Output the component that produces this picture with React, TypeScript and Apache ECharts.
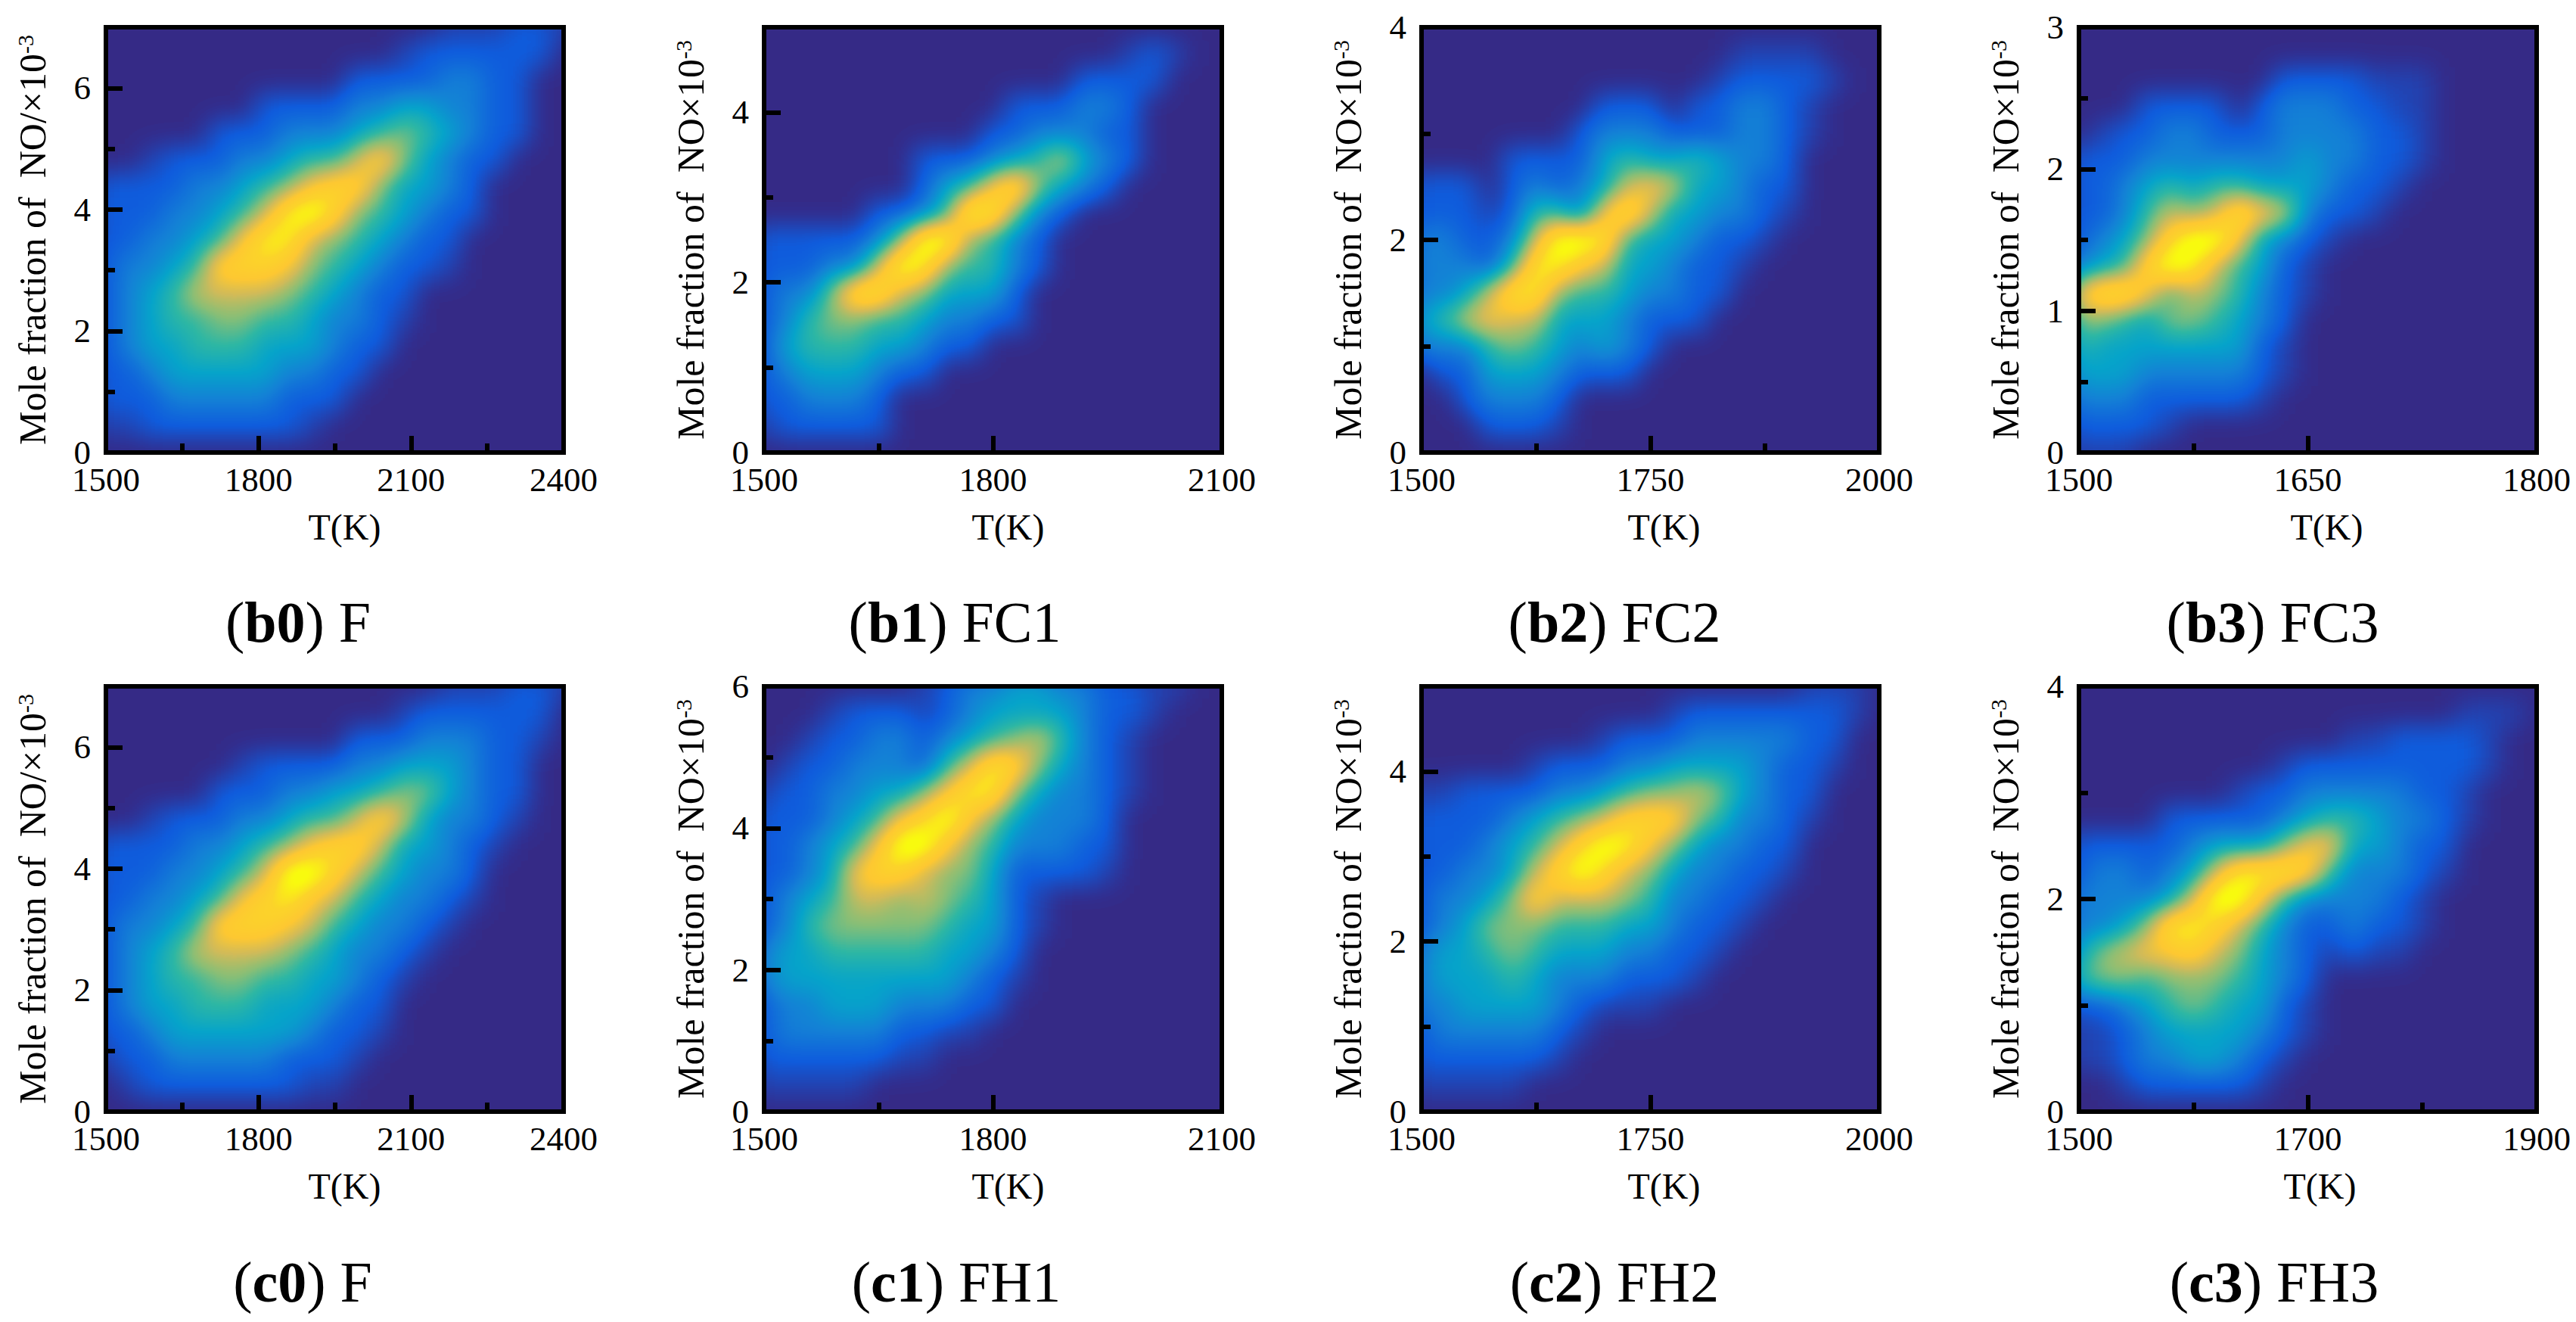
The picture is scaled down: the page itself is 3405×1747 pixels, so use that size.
import React, { useEffect, useRef } from "react";
import * as echarts from "echarts";

const PARULA = ["#352a87", "#0f5cdd", "#1481d6", "#06a4ca", "#2eb7a4", "#87bf77", "#d1bb59", "#fec832", "#fcd42a", "#f9fb0e", "#f9fb0e"];
const LEVEL_MAX = PARULA.length - 1;
const FONT = "Liberation Serif";

// Colour level: 21 columns (T, left to right), 17 rows (NO, top to bottom)
const b0Levels = [
[0,0,0,0,0,0,0,0,0,0,0,0,0,0,0,.5,.5,.5,1,1,.5],
[0,0,0,0,0,0,0,0,0,0,0,0,0,.5,1,1,1,1,1,1,0],
[0,0,0,0,0,0,0,0,0,0,0,1,1,1,1,2,2,1,1,0,0],
[0,0,0,0,0,0,0,1,1,1,1,2,2,3,3,2,2,1,1,0,0],
[0,0,0,0,0,1,1,1,2,2,2,3,4,5,4,3,2,1,1,0,0],
[0,0,.5,1,1,1,2,2,3,4,4,6,8,5,3,2,1,1,0,0,0],
[1,1,1,1,2,2,3,4,5,7,8,8,5,3,3,2,1,0,0,0,0],
[1,1,1,2,2,3,4,6,9,10,8,5,4,3,2,1,1,0,0,0,0],
[1,1,2,2,3,4,7,9,9,6,5,4,3,2,1,1,0,0,0,0,0],
[1,2,2,3,4,8,8,8,7,5,4,3,2,1,1,.5,0,0,0,0,0],
[1,2,3,4,6,6,6,6,5,4,3,2,1,1,0,0,0,0,0,0,0],
[1,2,3,4,4,5,5,4,4,3,2,2,1,.5,0,0,0,0,0,0,0],
[1,2,3,3,4,4,4,3,3,3,2,1,1,0,0,0,0,0,0,0,0],
[1,1,2,3,3,3,3,3,2,2,1,1,0,0,0,0,0,0,0,0,0],
[1,1,1,2,2,2,2,2,1,1,1,0,0,0,0,0,0,0,0,0,0],
[.5,.5,1,1,1,1,1,1,1,.5,0,0,0,0,0,0,0,0,0,0,0],
[0,0,0,0,0,0,0,0,0,0,0,0,0,0,0,0,0,0,0,0,0],
];
const b1Levels = [
[0,0,0,0,0,0,0,0,0,0,0,0,0,0,0,0,0,0,0,0,0],
[0,0,0,0,0,0,0,0,0,0,0,0,0,0,0,0,.5,1,.5,0,0],
[0,0,0,0,0,0,0,0,0,0,0,0,0,0,1,1,1,1,0,0,0],
[0,0,0,0,0,0,0,0,0,0,0,1,1,1,2,2,1,0,0,0,0],
[0,0,0,0,0,0,0,0,0,0,1,1,2,2,2,1,1,0,0,0,0],
[0,0,0,0,0,0,0,1,1,1,2,3,4,6,3,2,1,0,0,0,0],
[0,0,0,0,0,0,0,1,3,4,7,9,5,3,2,1,0,0,0,0,0],
[0,0,0,0,0,1,1,2,4,10,9,5,2,1,0,0,0,0,0,0,0],
[1,1,1,1,1,2,5,10,10,5,4,2,1,0,0,0,0,0,0,0,0],
[1,1,1,2,2,6,10,9,5,4,4,2,1,0,0,0,0,0,0,0,0],
[1,2,2,5,9,9,6,5,3,3,3,1,0,0,0,0,0,0,0,0,0],
[1,2,4,5,5,4,4,3,2,2,1,1,0,0,0,0,0,0,0,0,0],
[1,3,4,4,4,3,3,2,1,1,0,0,0,0,0,0,0,0,0,0,0],
[1,2,3,3,3,2,1,1,0,0,0,0,0,0,0,0,0,0,0,0,0],
[1,1,2,2,2,1,0,0,0,0,0,0,0,0,0,0,0,0,0,0,0],
[.5,1,1,1,1,1,0,0,0,0,0,0,0,0,0,0,0,0,0,0,0],
[0,0,0,0,0,0,0,0,0,0,0,0,0,0,0,0,0,0,0,0,0],
];
const b2Levels = [
[0,0,0,0,0,0,0,0,0,0,0,0,0,0,0,0,0,0,0,0,0],
[0,0,0,0,0,0,0,0,0,0,0,0,0,0,.5,.5,.5,.5,0,0,0],
[0,0,0,0,0,0,0,0,0,0,0,0,0,.5,1,1,1,1,.5,0,0],
[0,0,0,0,0,0,0,0,1,1,1,0,1,1,2,2,1,.5,0,0,0],
[0,0,0,0,0,0,0,1,2,2,2,1,1,1,2,2,1,.5,0,0,0],
[0,0,0,0,1,1,1,1,3,4,3,3,4,3,2,2,1,0,0,0,0],
[1,1,1,0,1,2,1,2,3,6,7,6,3,3,2,1,1,0,0,0,0],
[1,1,1,.5,1,4,4,2,7,9,6,3,3,2,2,1,.5,0,0,0,0],
[2,2,1,1,2,6,10,10,9,4,3,3,2,1,1,.5,0,0,0,0,0],
[2,2,2,1,4,9,9,7,6,3,3,2,1,1,.5,0,0,0,0,0,0],
[2,2,3,6,9,9,5,4,4,3,2,2,1,1,0,0,0,0,0,0,0],
[3,4,6,7,6,6,3,3,3,2,1,1,1,0,0,0,0,0,0,0,0],
[2,2,2,4,5,4,3,2,3,2,1,0,0,0,0,0,0,0,0,0,0],
[0,1,1,3,3,3,2,1,1,1,0,0,0,0,0,0,0,0,0,0,0],
[0,0,1,2,2,2,1,0,0,0,0,0,0,0,0,0,0,0,0,0,0],
[0,0,0,1,1,1,.5,0,0,0,0,0,0,0,0,0,0,0,0,0,0],
[0,0,0,0,0,0,0,0,0,0,0,0,0,0,0,0,0,0,0,0,0],
];
const b3Levels = [
[0,0,0,0,0,0,0,0,0,0,0,0,0,0,0,0,0,0,0,0,0],
[0,0,0,0,0,0,0,0,0,0,0,0,0,0,0,0,0,0,0,0,0],
[0,0,0,0,0,0,0,0,0,1,1,1,1,.5,.5,.5,0,0,0,0,0],
[0,0,0,1,1,1,1,0,1,2,2,2,1,1,.5,.5,0,0,0,0,0],
[0,.5,1,1,2,2,1,1,1,2,2,2,2,1,1,.5,0,0,0,0,0],
[1,1,1,2,2,2,2,2,2,2,3,2,2,1,1,.5,0,0,0,0,0],
[1,1,2,3,4,3,4,4,3,3,3,2,1,1,.5,0,0,0,0,0,0],
[1,1,2,4,6,5,6,9,7,6,2,1,1,.5,0,0,0,0,0,0,0],
[1,2,3,5,8,10,10,7,3,2,1,.5,0,0,0,0,0,0,0,0,0],
[2,3,4,8,10,9,6,4,3,1,.5,0,0,0,0,0,0,0,0,0,0],
[7,9,9,7,4,6,5,4,2,1,.5,0,0,0,0,0,0,0,0,0,0],
[5,5,4,3,5,5,4,3,2,1,0,0,0,0,0,0,0,0,0,0,0],
[4,3,3,3,3,3,3,3,1,.5,0,0,0,0,0,0,0,0,0,0,0],
[3,3,3,2,2,2,2,2,1,.5,0,0,0,0,0,0,0,0,0,0,0],
[2,2,2,1,1,1,1,1,.5,0,0,0,0,0,0,0,0,0,0,0,0],
[1,1,1,1,.5,0,0,0,0,0,0,0,0,0,0,0,0,0,0,0,0],
[.5,.5,.5,0,0,0,0,0,0,0,0,0,0,0,0,0,0,0,0,0,0],
];
const c0Levels = [
[0,0,0,0,0,0,0,0,0,0,0,0,0,0,0,.5,.5,.5,1,1,.5],
[0,0,0,0,0,0,0,0,0,0,0,0,0,.5,1,1,1,1,1,1,0],
[0,0,0,0,0,0,0,0,0,0,0,1,1,1,2,2,2,1,1,.5,0],
[0,0,0,0,0,0,.5,1,1,1,1,2,2,3,3,3,2,1,1,0,0],
[0,0,0,0,0,1,1,1,2,2,3,3,4,5,5,3,2,1,1,0,0],
[0,0,.5,1,1,1,2,2,3,4,4,6,8,6,3,2,2,1,.5,0,0],
[1,1,1,1,2,2,3,4,5,7,8,8,6,3,3,2,1,.5,0,0,0],
[1,1,1,2,2,3,4,6,10,10,8,6,4,3,2,2,1,0,0,0,0],
[1,1,2,2,3,4,7,8,9,7,6,4,3,2,2,1,.5,0,0,0,0],
[1,2,2,3,4,8,8,8,7,6,4,3,2,2,1,.5,0,0,0,0,0],
[1,2,3,4,6,6,6,6,5,4,3,2,2,1,.5,0,0,0,0,0,0],
[1,2,3,4,4,5,5,4,4,3,3,2,1,.5,0,0,0,0,0,0,0],
[1,2,3,3,4,4,4,3,3,3,2,1,1,0,0,0,0,0,0,0,0],
[1,1,2,3,3,3,3,3,3,2,1,1,.5,0,0,0,0,0,0,0,0],
[.5,1,1,2,2,2,2,2,1,1,1,.5,0,0,0,0,0,0,0,0,0],
[0,.5,1,1,1,1,1,1,1,.5,.5,0,0,0,0,0,0,0,0,0,0],
[0,0,0,0,0,0,0,0,0,0,0,0,0,0,0,0,0,0,0,0,0],
];
const c1Levels = [
[0,0,0,0,0,0,0,.5,1,2,2,3,3,2,2,1,1,.5,.5,0,0],
[0,0,0,.5,1,1,1,.5,1,2,3,3,3,3,2,1,1,.5,0,0,0],
[0,0,.5,1,1,2,2,1,2,3,4,5,6,4,2,1,.5,0,0,0,0],
[0,.5,1,1,2,2,2,1,4,6,9,8,5,3,2,1,.5,0,0,0,0],
[.5,1,1,2,2,3,3,5,7,9,9,5,3,2,2,1,.5,0,0,0,0],
[1,1,1,2,3,4,7,8,10,7,5,3,2,2,2,1,0,0,0,0,0],
[1,1,2,3,4,7,10,10,7,5,4,2,2,2,1,1,0,0,0,0,0],
[1,1,2,3,7,8,8,6,5,5,3,1,1,1,1,.5,0,0,0,0,0],
[1,2,3,4,6,6,5,6,5,4,3,1,.5,0,0,0,0,0,0,0,0],
[1,2,4,5,5,5,5,5,4,3,3,1,.5,0,0,0,0,0,0,0,0],
[2,3,3,4,4,4,4,4,3,3,2,1,0,0,0,0,0,0,0,0,0],
[2,3,3,3,3,3,3,3,3,2,1,.5,0,0,0,0,0,0,0,0,0],
[1,2,2,3,3,3,2,2,2,1,1,0,0,0,0,0,0,0,0,0,0],
[1,2,2,2,2,2,1,1,.5,.5,0,0,0,0,0,0,0,0,0,0,0],
[1,1,1,1,1,1,.5,.5,0,0,0,0,0,0,0,0,0,0,0,0,0],
[.5,.5,.5,.5,.5,0,0,0,0,0,0,0,0,0,0,0,0,0,0,0,0],
[0,0,0,0,0,0,0,0,0,0,0,0,0,0,0,0,0,0,0,0,0],
];
const c2Levels = [
[0,0,0,0,0,0,0,0,0,0,0,0,0,0,0,0,0,.5,.5,.5,0],
[0,0,0,0,0,0,0,0,0,0,0,.5,1,1,1,1,1,1,1,.5,0],
[0,0,0,0,0,0,0,0,.5,1,1,1,2,2,2,2,2,1,1,0,0],
[0,0,0,0,0,.5,1,1,1,2,2,3,3,3,3,2,1,1,.5,0,0],
[.5,.5,1,1,1,1,2,2,3,4,5,5,6,5,3,2,1,1,0,0,0],
[1,1,1,1,2,3,4,5,6,8,8,8,5,4,2,2,1,.5,0,0,0],
[1,1,1,2,3,4,6,8,10,9,7,5,3,2,2,1,1,0,0,0,0],
[1,1,2,2,3,6,8,10,8,6,5,3,2,2,1,1,.5,0,0,0,0],
[1,2,2,3,5,8,6,6,6,5,4,2,2,1,1,.5,0,0,0,0,0],
[1,2,3,5,5,5,4,4,4,3,3,2,1,1,.5,0,0,0,0,0,0],
[2,3,3,4,5,4,3,3,3,2,2,1,1,.5,0,0,0,0,0,0,0],
[2,3,3,3,4,3,2,2,2,1,1,1,.5,0,0,0,0,0,0,0,0],
[2,2,3,3,3,3,2,1,.5,.5,.5,0,0,0,0,0,0,0,0,0,0],
[1,2,2,2,2,2,1,.5,0,0,0,0,0,0,0,0,0,0,0,0,0],
[1,1,1,1,1,1,.5,0,0,0,0,0,0,0,0,0,0,0,0,0,0],
[.5,.5,.5,.5,.5,0,0,0,0,0,0,0,0,0,0,0,0,0,0,0,0],
[0,0,0,0,0,0,0,0,0,0,0,0,0,0,0,0,0,0,0,0,0],
];
const c3Levels = [
[0,0,0,0,0,0,0,0,0,0,0,0,0,0,0,0,0,0,0,0,0],
[0,0,0,0,0,0,0,0,0,0,0,0,0,0,0,0,0,.5,.5,.5,0],
[0,0,0,0,0,0,0,0,0,0,0,0,.5,.5,1,1,1,1,.5,0,0],
[0,0,0,0,0,0,0,0,0,.5,1,1,1,1,1,1,1,1,.5,0,0],
[0,0,0,0,0,0,0,.5,1,1,2,2,2,2,2,1,1,.5,0,0,0],
[0,0,0,0,1,1,1,1,1,2,3,4,4,3,2,2,1,.5,0,0,0],
[1,1,1,1,1,2,3,3,3,5,7,7,3,3,2,1,1,0,0,0,0],
[1,2,2,1,2,3,6,9,9,9,8,4,2,2,2,1,.5,0,0,0,0],
[2,2,2,2,3,6,10,10,7,4,2,2,2,2,1,.5,0,0,0,0,0],
[2,2,3,5,9,9,8,6,4,2,1,1,2,1,1,.5,0,0,0,0,0],
[3,5,6,7,7,8,6,5,3,2,1,.5,1,.5,.5,0,0,0,0,0,0],
[4,5,5,4,5,5,5,4,3,2,1,0,0,0,0,0,0,0,0,0,0],
[1,1,2,3,4,5,4,3,3,1,.5,0,0,0,0,0,0,0,0,0,0],
[.5,.5,1,2,3,3,3,3,2,1,.5,0,0,0,0,0,0,0,0,0,0],
[.5,.5,1,2,2,3,3,2,1,.5,0,0,0,0,0,0,0,0,0,0,0],
[0,0,.5,1,1,1,1,1,.5,0,0,0,0,0,0,0,0,0,0,0,0],
[0,0,0,0,0,0,0,0,0,0,0,0,0,0,0,0,0,0,0,0,0],
];

const lefts = [140, 1010, 1879, 2748];
const tops = [36, 907];
const plotW = 605;
const plotH = 562;

const panelNames = ["b0", "b1", "b2", "b3", "c0", "c1", "c2", "c3"];
const panelLabels = ["F", "FC1", "FC2", "FC3", "F", "FH1", "FH2", "FH3"];
const captionX = [394, 1262, 2134, 3004, 400, 1264, 2134, 3006];
const captionY = [822, 1694];
const levels = [b0Levels, b1Levels, b2Levels, b3Levels, c0Levels, c1Levels, c2Levels, c3Levels];
const xMaxes = [2400, 2100, 2000, 1800, 2400, 2100, 2000, 1900];
const xSteps = [300, 300, 250, 150, 300, 300, 250, 200];
const yMaxes = [7, 5, 4, 3, 7, 6, 5, 4];
const yLabels = [[0, 2, 4, 6], [0, 2, 4], [0, 2, 4], [0, 1, 2, 3], [0, 2, 4, 6], [0, 2, 4, 6], [0, 2, 4], [0, 2, 4]];
const xMajor = [[1800, 2100], [1800], [1750], [1650], [1800, 2100], [1800], [1750], [1700]];
const xMinor = [[1650, 1950, 2250], [1650], [1625, 1875], [1575], [1650, 1950, 2250], [1650], [1625], [1600, 1800]];
const yMajor = [[2, 4, 6], [2, 4], [2], [1, 2], [2, 4, 6], [2, 4], [2, 4], [2]];
const yMinor = [[1, 3, 5], [1, 3], [1, 3], [0.5, 1.5, 2.5], [1, 3, 5], [1, 3, 5], [1, 3], [1, 3]];
const yNames = ["NO/×10", "NO×10", "NO×10", "NO×10", "NO/×10", "NO×10", "NO×10", "NO×10"];
const xNameShift = [26, 40, 36, 50, 26, 40, 36, 32];

const rectOf = (i: number) => ({ l: lefts[i % 4], t: tops[i < 4 ? 0 : 1] });
const plain = (v: number) => String(v);

function heatOption() {
  const grid: any[] = [], xAxis: any[] = [], yAxis: any[] = [], series: any[] = [];
  levels.forEach((rows, i) => {
    const { l, t } = rectOf(i);
    const nx = rows[0].length, ny = rows.length;
    const cw = plotW / (nx - 1), ch = plotH / (ny - 1);
    grid.push({ left: l - cw / 2, top: t - ch / 2, width: plotW + cw, height: plotH + ch, show: false });
    xAxis.push({ type: "category", gridIndex: i, show: false, data: rows[0].map((_, k) => k) });
    yAxis.push({ type: "category", gridIndex: i, show: false, data: rows.map((_, k) => k) });
    const data: number[][] = [];
    rows.forEach((row, j) => row.forEach((v, k) => data.push([k, ny - 1 - j, v])));
    series.push({ type: "heatmap", xAxisIndex: i, yAxisIndex: i, data, progressive: 0, itemStyle: { borderWidth: 0 } });
  });
  return {
    animation: false,
    backgroundColor: "#000",
    grid, xAxis, yAxis, series,
    // The cells are drawn as grey levels; the page's SVG filter smooths them and applies the colour ramp.
    visualMap: { show: false, min: 0, max: LEVEL_MAX, inRange: { color: ["#000", "#fff"] }, seriesIndex: levels.map((_, i) => i) },
  };
}

function frameOption() {
  const grid: any[] = [], xAxis: any[] = [], yAxis: any[] = [], graphic: any[] = [];
  const textStyle = { fontFamily: FONT, color: "#000" };
  panelNames.forEach((name, i) => {
    const { l, t } = rectOf(i);
    grid.push({ left: l, top: t, width: plotW, height: plotH, show: true, backgroundColor: "transparent", borderColor: "#000", borderWidth: 6 });
    const xBase = { type: "value", gridIndex: i, min: 1500, max: xMaxes[i], position: "bottom", splitLine: { show: false }, axisLine: { show: false, onZero: false } };
    const yBase = { type: "value", gridIndex: i, min: 0, max: yMaxes[i], position: "left", splitLine: { show: false }, axisLine: { show: false, onZero: false } };
    xAxis.push({
      ...xBase, interval: xSteps[i],
      axisTick: { show: true, inside: true, length: 22, customValues: xMajor[i], lineStyle: { color: "#000", width: 6 } },
      axisLabel: { ...textStyle, fontSize: 45, margin: 13, hideOverlap: false, formatter: plain },
      name: "T(K)", nameLocation: "middle", nameGap: 74,
      nameTextStyle: { ...textStyle, fontSize: 48, padding: [0, 0, 0, xNameShift[i]] },
    });
    xAxis.push({
      ...xBase, interval: xSteps[i],
      axisTick: { show: true, inside: true, length: 12, customValues: xMinor[i], lineStyle: { color: "#000", width: 6 } },
      axisLabel: { show: false },
    });
    yAxis.push({
      ...yBase,
      axisTick: { show: true, inside: true, length: 22, customValues: yMajor[i], lineStyle: { color: "#000", width: 6 } },
      axisLabel: { ...textStyle, fontSize: 45, margin: 20, customValues: yLabels[i], formatter: plain },
      name: `Mole fraction of  ${yNames[i]}{sup|-3}`, nameLocation: "middle", nameGap: 72,
      nameTextStyle: { ...textStyle, fontSize: 50, rich: { sup: { ...textStyle, fontSize: 30, verticalAlign: "top", lineHeight: 50 } } },
    });
    yAxis.push({
      ...yBase,
      axisTick: { show: true, inside: true, length: 12, customValues: yMinor[i], lineStyle: { color: "#000", width: 6 } },
      axisLabel: { show: false },
    });
    graphic.push({
      type: "text", x: captionX[i], y: captionY[i < 4 ? 0 : 1],
      style: {
        text: `(${"{b|" + name + "}"}) ${panelLabels[i]}`,
        fontFamily: FONT, fontSize: 76, fill: "#000", align: "center", verticalAlign: "middle",
        rich: { b: { fontFamily: FONT, fontSize: 76, fontWeight: "bold", fill: "#000" } },
      },
    });
  });
  return { animation: false, backgroundColor: "transparent", grid, xAxis, yAxis, graphic };
}

const clipPathOf = () =>
  "path('" +
  panelNames
    .map((_, i) => {
      const { l, t } = rectOf(i);
      return `M${l} ${t}H${l + plotW}V${t + plotH}H${l}Z`;
    })
    .join("") +
  "')";

const channel = (start: number) =>
  PARULA.map((c) => (parseInt(c.slice(start, start + 2), 16) / 255).toFixed(3)).join(" ");

export default function App() {
  const heatRef = useRef<HTMLDivElement>(null);
  const frameRef = useRef<HTMLDivElement>(null);
  useEffect(() => {
    document.body.style.margin = "0";
    const heat = echarts.init(heatRef.current!, undefined, { renderer: "svg" });
    const frame = echarts.init(frameRef.current!, undefined, { renderer: "svg" });
    heat.setOption(heatOption());
    frame.setOption(frameOption());
    return () => {
      heat.dispose();
      frame.dispose();
    };
  }, []);
  const box: React.CSSProperties = { position: "absolute", left: 0, top: 0, width: 3405, height: 1747 };
  return (
    <div style={{ ...box, background: "#fff", overflow: "hidden" }}>
      <svg width="0" height="0" style={{ position: "absolute" }}>
        <filter id="parulaSmooth" x="0" y="0" width="100%" height="100%" colorInterpolationFilters="sRGB">
          <feGaussianBlur stdDeviation="17" />
          <feComponentTransfer>
            <feFuncR type="table" tableValues={channel(1)} />
            <feFuncG type="table" tableValues={channel(3)} />
            <feFuncB type="table" tableValues={channel(5)} />
          </feComponentTransfer>
        </filter>
      </svg>
      <div style={{ ...box, clipPath: clipPathOf() }}>
        <div ref={heatRef} style={{ ...box, filter: "url(#parulaSmooth)" }} />
      </div>
      <div ref={frameRef} style={box} />
    </div>
  );
}
